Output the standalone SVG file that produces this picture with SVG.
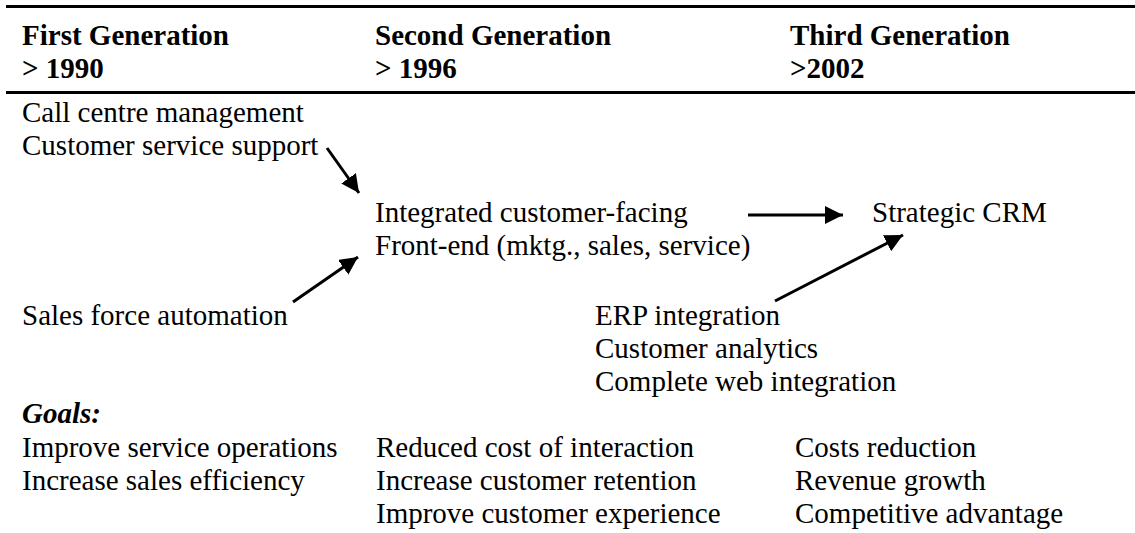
<svg xmlns="http://www.w3.org/2000/svg" width="1135" height="533" viewBox="0 0 1135 533">
<style>
text{font-size:29px;fill:#000}
.h{font-weight:bold}
.g{font-weight:bold;font-style:italic}
.rule{stroke:#000;stroke-width:3}
.conn{stroke:#000;stroke-width:3;fill:none}
</style>
<defs>
<marker id="ah" viewBox="0 0 10 10" refX="10" refY="5" markerWidth="6" markerHeight="6" markerUnits="strokeWidth" orient="auto">
<path d="M0,0 L10,5 L0,10 z" fill="#000"/>
</marker>
</defs>
<line class="rule" x1="6" y1="6.5" x2="1135" y2="6.5"/>
<line class="rule" x1="6" y1="92.5" x2="1135" y2="92.5"/>
<g font-family="Liberation Serif, DejaVu Serif, serif">
<g id="header1"><text class="h" x="22" y="45">First Generation</text><text class="h" x="22" y="78">&gt; 1990</text></g>
<g id="header2"><text class="h" x="375" y="45">Second Generation</text><text class="h" x="375" y="78">&gt; 1996</text></g>
<g id="header3"><text class="h" x="790" y="45">Third Generation</text><text class="h" x="790" y="78">&gt;2002</text></g>
<g id="first"><text x="22" y="122">Call centre management</text><text x="22" y="155">Customer service support</text></g>
<g id="sfa"><text x="22" y="325">Sales force automation</text></g>
<g id="integrated"><text x="375" y="222">Integrated customer-facing</text><text x="375" y="255">Front-end (mktg., sales, service)</text></g>
<g id="strategic"><text x="872" y="222">Strategic CRM</text></g>
<g id="erp"><text x="595" y="325">ERP integration</text><text x="595" y="358">Customer analytics</text><text x="595" y="391">Complete web integration</text></g>
<g id="goals">
<text class="g" x="22" y="423">Goals:</text>
<text x="22" y="457">Improve service operations</text>
<text x="22" y="490">Increase sales efficiency</text>
<text x="376" y="457">Reduced cost of interaction</text>
<text x="376" y="490">Increase customer retention</text>
<text x="376" y="523">Improve customer experience</text>
<text x="795" y="457">Costs reduction</text>
<text x="795" y="490">Revenue growth</text>
<text x="795" y="523">Competitive advantage</text>
</g>
</g>
<g id="connectors">
<line class="conn" x1="327" y1="148" x2="359" y2="193" marker-end="url(#ah)"/>
<line class="conn" x1="293" y1="302" x2="358" y2="257" marker-end="url(#ah)"/>
<line class="conn" x1="748" y1="215" x2="843" y2="215" marker-end="url(#ah)"/>
<line class="conn" x1="775" y1="301" x2="903" y2="235" marker-end="url(#ah)"/>
</g>
</svg>
